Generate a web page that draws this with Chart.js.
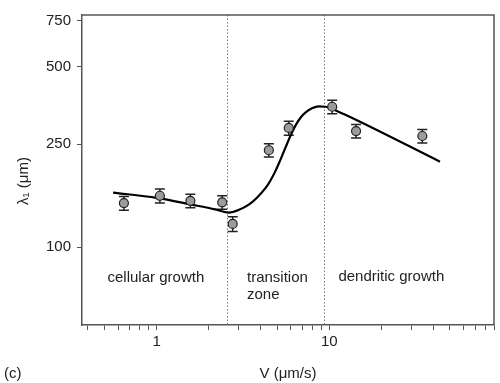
<!DOCTYPE html>
<html>
<head>
<meta charset="utf-8">
<script src="https://cdn.jsdelivr.net/npm/chart.js@4/dist/chart.umd.min.js"></script>
<style>
  body { margin: 0; background: #fff; }
  canvas { display: block; }
</style>
</head>
<body>
<canvas id="myChart" width="500" height="383"></canvas>
<script>
// measured points, V (um/s) vs lambda1 (um)
var pointV = [0.647, 1.045, 1.57, 2.40, 2.76, 4.47, 5.83, 10.4, 14.3, 34.6];
var pointLambda = [148, 158, 151, 149, 123, 237, 289, 349, 281, 269];
var pointErr = [9, 10, 9, 9, 8, 14, 18, 21, 17, 16];

// fitted curve
var fitV = [0.56, 1.0, 1.6, 2.19, 2.62, 3.0, 3.42, 3.8, 4.27, 4.55, 4.87, 5.2, 5.57, 5.95, 6.36, 6.8, 7.27, 8.0, 8.67, 9.48, 11.3, 12.4, 43.8];
var fitLambda = [162.5, 155, 146, 140, 136, 139.4, 146, 154.9, 169, 180.3, 196.3, 216.6, 242, 268.7, 294.4, 315.7, 331.1, 344.8, 350, 349, 334, 325, 214];

// regime boundaries
var boundaryV = [2.56, 9.36];

// ticks
var xTicks = [0.4, 0.5, 0.6, 0.7, 0.8, 0.9, 1, 2, 3, 4, 5, 6, 7, 8, 9, 10, 20, 30, 40, 50, 60, 70, 80, 90];
var xLabels = [1, 10];
var yTicks = [100, 250, 500, 750];

var AXIS_COLOR = '#555';
var TEXT_COLOR = '#222';
var FONT = 'Liberation Sans, Arial, sans-serif';

var points = [];
for (var i = 0; i < pointV.length; i++) {
    points.push({x: pointV[i], y: pointLambda[i]});
}
var fit = [];
for (var j = 0; j < fitV.length; j++) {
    fit.push({x: fitV[j], y: fitLambda[j]});
}

// frame, dotted boundaries, error bars and the text labels
var decorPlugin = {
    id: 'decor',
    beforeDatasetsDraw: function (chart) {
        var ctx = chart.ctx;
        var area = chart.chartArea;
        var xs = chart.scales.x, ys = chart.scales.y;

        ctx.save();
        ctx.strokeStyle = '#777';
        ctx.lineWidth = 1;
        ctx.setLineDash([1.5, 2]);
        boundaryV.forEach(function (v) {
            var px = Math.round(xs.getPixelForValue(v)) + 0.5;
            ctx.beginPath();
            ctx.moveTo(px, area.top);
            ctx.lineTo(px, area.bottom);
            ctx.stroke();
        });
        ctx.restore();

        // error bars
        ctx.save();
        ctx.strokeStyle = '#222';
        ctx.lineWidth = 1.5;
        for (var k = 0; k < pointV.length; k++) {
            var px = xs.getPixelForValue(pointV[k]);
            var top = ys.getPixelForValue(pointLambda[k] + pointErr[k]);
            var bot = ys.getPixelForValue(pointLambda[k] - pointErr[k]);
            ctx.beginPath();
            ctx.moveTo(px, top);
            ctx.lineTo(px, bot);
            ctx.moveTo(px - 5, top);
            ctx.lineTo(px + 5, top);
            ctx.moveTo(px - 5, bot);
            ctx.lineTo(px + 5, bot);
            ctx.stroke();
        }
        ctx.restore();
    },
    afterDraw: function (chart) {
        var ctx = chart.ctx;
        var area = chart.chartArea;
        var xs = chart.scales.x, ys = chart.scales.y;

        ctx.save();
        ctx.strokeStyle = AXIS_COLOR;
        ctx.lineWidth = 1.5;
        ctx.beginPath();
        ctx.moveTo(area.left, area.top);
        ctx.lineTo(area.right, area.top);
        ctx.lineTo(area.right, area.bottom);
        ctx.stroke();

        ctx.fillStyle = TEXT_COLOR;
        ctx.font = '15px ' + FONT;
        ctx.textBaseline = 'middle';
        ctx.textAlign = 'left';
        ctx.fillText('cellular growth', xs.getPixelForValue(0.52), ys.getPixelForValue(76));
        ctx.fillText('transition', xs.getPixelForValue(3.34), ys.getPixelForValue(76));
        ctx.fillText('zone', xs.getPixelForValue(3.34), ys.getPixelForValue(65.6));
        ctx.fillText('dendritic growth', xs.getPixelForValue(11.3), ys.getPixelForValue(77));

        ctx.textAlign = 'center';
        ctx.fillText('V (\u03bcm/s)', (area.left + area.right) / 2, 374);
        ctx.textAlign = 'left';
        ctx.fillText('(c)', 4, 374);

        ctx.translate(24, 181);
        ctx.rotate(-Math.PI / 2);
        ctx.textAlign = 'center';
        ctx.fillText('\u03bb\u2081 (\u03bcm)', 0, 0);
        ctx.restore();
    }
};

const ctx = document.getElementById('myChart').getContext('2d');
const myChart = new Chart(ctx, {
    type: 'scatter',
    data: {
        datasets: [{
                label: 'data',
                data: points,
                order: 0,
                showLine: false,
                pointRadius: 4.5,
                pointBackgroundColor: '#9c9c9c',
                pointBorderColor: '#222',
                pointBorderWidth: 1.2
            }, {
                label: 'fit',
                data: fit,
                order: 1,
                showLine: true,
                pointRadius: 0,
                borderColor: '#000',
                borderWidth: 2.2,
                cubicInterpolationMode: 'monotone',
                fill: false
            }]
    },
    options: {
        responsive: false,
        animation: false,
        layout: {
            padding: {top: 9, right: 6, left: 0, bottom: 0}
        },
        plugins: {
            legend: {display: false},
            tooltip: {enabled: false}
        },
        scales: {
            x: {
                type: 'logarithmic',
                min: 0.37,
                max: 90,
                afterBuildTicks: function (scale) {
                    scale.ticks = xTicks.map(function (v) { return {value: v}; });
                },
                afterFit: function (scale) {
                    scale.height = 58;
                },
                border: {color: AXIS_COLOR, width: 1.5},
                grid: {drawOnChartArea: false, drawTicks: true, tickLength: 5, color: AXIS_COLOR, lineWidth: 1},
                ticks: {
                    autoSkip: false,
                    maxRotation: 0,
                    padding: 3,
                    color: TEXT_COLOR,
                    font: {family: FONT, size: 15},
                    callback: function (value) {
                        return xLabels.indexOf(value) >= 0 ? String(value) : '';
                    }
                }
            },
            y: {
                type: 'logarithmic',
                min: 50,
                max: 790,
                afterBuildTicks: function (scale) {
                    scale.ticks = yTicks.map(function (v) { return {value: v}; });
                },
                afterFit: function (scale) {
                    scale.width = 82;
                },
                border: {color: AXIS_COLOR, width: 1.5},
                grid: {drawOnChartArea: false, drawTicks: true, tickLength: 5, color: AXIS_COLOR, lineWidth: 1},
                ticks: {
                    padding: 6,
                    color: TEXT_COLOR,
                    font: {family: FONT, size: 15},
                    callback: function (value) {
                        return String(value);
                    }
                }
            }
        }
    },
    plugins: [decorPlugin]
});
</script>
</body>
</html>
